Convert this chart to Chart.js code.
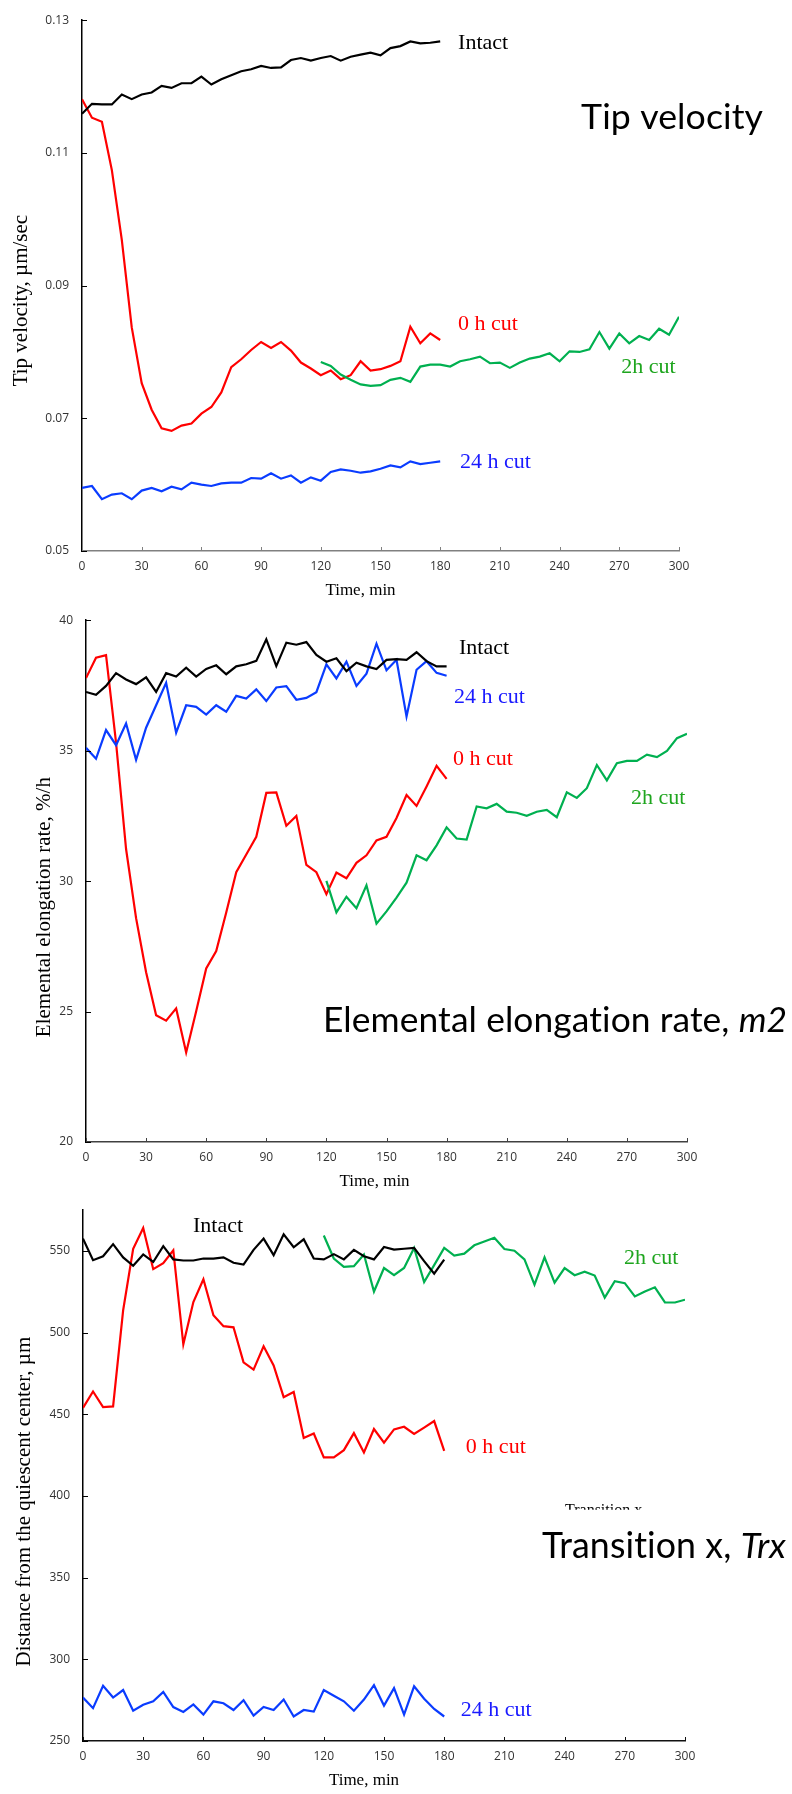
<!DOCTYPE html>
<html>
<head>
<meta charset="utf-8">
<title>Tip velocity, elongation rate and transition</title>
<script src="https://cdn.jsdelivr.net/npm/chart.js@4.4.1/dist/chart.umd.min.js"></script>
<style>
  html, body { margin: 0; padding: 0; background: #fff; }
  body { width: 792px; height: 1794px; position: relative; overflow: hidden; }
  .panel { position: absolute; left: 0; width: 792px; }
</style>
</head>
<body>
<div class="panel" style="top:0;height:600px"><canvas id="tipChart" width="792" height="600"></canvas></div>
<div class="panel" style="top:600px;height:590px"><canvas id="eerChart" width="792" height="590"></canvas></div>
<div class="panel" style="top:1190px;height:604px"><canvas id="trxChart" width="792" height="604"></canvas></div>

<script>
// time points (min)
const timesEarly = [0, 5, 10, 15, 20, 25, 30, 35, 40, 45, 50, 55, 60, 65, 70, 75, 80, 85, 90,
    95, 100, 105, 110, 115, 120, 125, 130, 135, 140, 145, 150, 155, 160, 165, 170, 175, 180];
const timesLate = [120, 125, 130, 135, 140, 145, 150, 155, 160, 165, 170, 175, 180, 185, 190,
    195, 200, 205, 210, 215, 220, 225, 230, 235, 240, 245, 250, 255, 260, 265, 270, 275, 280,
    285, 290, 295, 300];
const timeTicks = [0, 30, 60, 90, 120, 150, 180, 210, 240, 270, 300];

// Tip velocity, um/sec
const tipIntact = [0.1159, 0.1174, 0.1173, 0.1173, 0.1188, 0.1181, 0.1188, 0.1191, 0.1201, 0.1198,
    0.1205, 0.1205, 0.1215, 0.1203, 0.1211, 0.1217, 0.1223, 0.1226, 0.1231, 0.1228, 0.1229, 0.1240,
    0.1243, 0.1239, 0.1243, 0.1246, 0.1239, 0.1245, 0.1248, 0.1251, 0.1247, 0.1258, 0.1261, 0.1268,
    0.1265, 0.1266, 0.1268];
const tipCut0h = [0.1181, 0.1153, 0.1147, 0.1074, 0.0969, 0.0837, 0.0753, 0.0713, 0.0685, 0.0681,
    0.0689, 0.0692, 0.0707, 0.0717, 0.0739, 0.0777, 0.0789, 0.0803, 0.0815, 0.0806, 0.0815, 0.0802,
    0.0784, 0.0775, 0.0765, 0.0772, 0.0759, 0.0765, 0.0786, 0.0772, 0.0774, 0.0779, 0.0786, 0.0838,
    0.0813, 0.0828, 0.0818];
const tipCut2h = [0.0785, 0.0779, 0.0766, 0.0758, 0.0751, 0.0749, 0.0750, 0.0758, 0.0761, 0.0755,
    0.0778, 0.0781, 0.0781, 0.0778, 0.0786, 0.0789, 0.0793, 0.0783, 0.0784, 0.0776, 0.0784, 0.0790,
    0.0793, 0.0798, 0.0786, 0.0801, 0.0800, 0.0804, 0.0830, 0.0805, 0.0828, 0.0813, 0.0824, 0.0818,
    0.0835, 0.0826, 0.0853];
const tipCut24h = [0.0595, 0.0598, 0.0578, 0.0585, 0.0587, 0.0578, 0.0591, 0.0595, 0.0590, 0.0597,
    0.0593, 0.0603, 0.0600, 0.0598, 0.0602, 0.0603, 0.0603, 0.0610, 0.0609, 0.0617, 0.0609, 0.0614,
    0.0603, 0.0611, 0.0606, 0.0619, 0.0623, 0.0621, 0.0618, 0.0620, 0.0624, 0.0629, 0.0626, 0.0635,
    0.0631, 0.0633, 0.0635];

// Elemental elongation rate, %/h
const eerIntact = [37.25, 37.14, 37.48, 37.97, 37.73, 37.55, 37.81, 37.25, 37.97, 37.84, 38.18,
    37.84, 38.13, 38.27, 37.93, 38.23, 38.31, 38.44, 39.27, 38.24, 39.14, 39.06, 39.16, 38.67, 38.41,
    38.54, 38.05, 38.37, 38.23, 38.13, 38.48, 38.51, 38.48, 38.77, 38.43, 38.23, 38.23];
const eerCut0h = [37.78, 38.56, 38.66, 35.31, 31.23, 28.58, 26.51, 24.86, 24.65, 25.12, 23.43,
    25.01, 26.65, 27.32, 28.80, 30.34, 31.02, 31.70, 33.38, 33.40, 32.12, 32.50, 30.62, 30.34, 29.50,
    30.33, 30.11, 30.70, 30.99, 31.56, 31.70, 32.42, 33.30, 32.88, 33.63, 34.42, 33.92];
const eerCut2h = [30.01, 28.80, 29.40, 28.96, 29.84, 28.37, 28.84, 29.37, 29.94, 30.99, 30.80,
    31.37, 32.06, 31.63, 31.59, 32.86, 32.79, 32.96, 32.66, 32.62, 32.50, 32.66, 32.73, 32.45, 33.40,
    33.19, 33.56, 34.45, 33.86, 34.52, 34.61, 34.61, 34.85, 34.75, 34.99, 35.48, 35.65];
const eerCut24h = [35.11, 34.69, 35.79, 35.21, 36.04, 34.65, 35.88, 36.74, 37.60, 35.69, 36.74,
    36.68, 36.38, 36.74, 36.49, 37.10, 37.00, 37.35, 36.90, 37.42, 37.47, 36.95, 37.02, 37.24, 38.31,
    37.77, 38.41, 37.48, 37.95, 39.10, 38.08, 38.48, 36.31, 38.10, 38.43, 37.98, 37.87];

// Transition x, distance from the quiescent center, um
const trxIntact = [557.6, 544.4, 546.8, 554.2, 546.1, 541.0, 547.9, 543.3, 553.0, 544.9, 544.2,
    544.2, 545.4, 545.4, 546.1, 542.8, 541.7, 550.7, 557.6, 547.5, 560.2, 552.3, 557.2, 545.4, 544.9,
    548.1, 544.9, 550.7, 546.8, 544.9, 552.5, 550.9, 551.4, 551.9, 543.8, 536.1, 544.7];
const trxCut0h = [454.0, 464.0, 454.5, 454.9, 513.7, 551.4, 564.1, 538.9, 542.6, 550.5, 492.9,
    518.8, 532.7, 510.7, 504.0, 503.3, 481.8, 477.4, 491.7, 479.9, 460.5, 463.7, 435.5, 438.3, 423.7,
    423.7, 428.1, 438.5, 426.7, 441.0, 432.7, 440.8, 442.4, 438.0, 441.9, 445.9, 427.6];
const trxCut2h = [559.5, 545.4, 540.3, 540.7, 547.9, 525.2, 539.6, 535.2, 539.6, 551.9, 531.0,
    541.4, 551.9, 547.2, 548.4, 553.5, 555.8, 558.1, 551.2, 550.2, 544.9, 529.4, 546.1, 530.6, 539.6,
    535.2, 537.3, 535.0, 521.5, 531.5, 530.3, 522.2, 525.2, 527.8, 518.5, 518.5, 520.2];
const trxCut24h = [276.6, 270.1, 283.8, 276.6, 281.2, 268.5, 272.2, 274.3, 280.0, 270.8, 267.8,
    272.4, 266.2, 274.3, 273.1, 269.0, 275.0, 265.5, 270.8, 269.0, 275.4, 265.0, 269.0, 268.0, 281.2,
    277.7, 274.3, 268.5, 275.4, 284.2, 271.7, 282.4, 266.2, 283.5, 275.9, 269.6, 265.0];

const lineColors = { intact: '#000000', cut0h: '#ff0000', cut2h: '#00b050', cut24h: '#0a3cff' };
const labelColors = { intact: '#000000', cut0h: '#ff0000', cut2h: '#1ea51e', cut24h: '#1a1aff' };

function points(times, values) {
    return times.map((t, i) => ({ x: t, y: values[i] }));
}

function series(times, values, color) {
    return {
        data: points(times, values),
        borderColor: color,
        borderWidth: 2.2,
        pointRadius: 0,
        tension: 0,
        fill: false
    };
}

// Axis titles, inward tick marks, curve labels and the panel headings
const figureText = {
    id: 'figureText',
    afterDraw(chart, args, opts) {
        const ctx = chart.ctx;
        const xs = chart.scales.x;
        const ys = chart.scales.y;
        const area = chart.chartArea;
        ctx.save();

        ctx.strokeStyle = '#000';
        ctx.lineWidth = 1;
        ys.ticks.forEach(tk => {
            const y = Math.round(ys.getPixelForValue(tk.value)) + 0.5;
            ctx.beginPath();
            ctx.moveTo(area.left, y);
            ctx.lineTo(area.left + 5, y);
            ctx.stroke();
        });
        ctx.strokeStyle = opts.xAxisColor;
        xs.ticks.forEach(tk => {
            const x = Math.round(xs.getPixelForValue(tk.value)) + 0.5;
            ctx.beginPath();
            ctx.moveTo(x, area.bottom);
            ctx.lineTo(x, area.bottom - 4);
            ctx.stroke();
        });

        ctx.fillStyle = '#000';
        ctx.textAlign = 'center';
        ctx.textBaseline = 'middle';
        ctx.font = '17px "Liberation Serif"';
        ctx.fillText('Time, min', (area.left + area.right) / 2 + opts.xTitleShift, area.bottom + 40);

        ctx.save();
        ctx.translate(opts.yTitleX, (area.top + area.bottom) / 2 + opts.yTitleShift);
        ctx.rotate(-Math.PI / 2);
        ctx.font = '21px "Liberation Serif"';
        ctx.fillText(opts.yTitle, 0, 0);
        ctx.restore();

        ctx.textAlign = 'left';
        ctx.font = '22px "Liberation Serif"';
        opts.labels.forEach(lb => {
            ctx.fillStyle = lb.color;
            ctx.fillText(lb.text, xs.getPixelForValue(lb.t), ys.getPixelForValue(lb.v));
        });

        if (opts.ghost) {
            // only the top of this caption shows in the figure
            const g = opts.ghost;
            const gx = xs.getPixelForValue(g.t);
            const gy = ys.getPixelForValue(g.v);
            ctx.save();
            ctx.beginPath();
            ctx.rect(gx - 5, gy - 20, 200, 20 - g.cut);
            ctx.clip();
            ctx.fillStyle = '#000';
            ctx.textBaseline = 'alphabetic';
            ctx.font = '16px "Liberation Serif"';
            ctx.fillText(g.text, gx, gy);
            ctx.restore();
        }

        // heading, fitted to the width it has in the figure
        const h = opts.heading;
        ctx.textBaseline = 'alphabetic';
        ctx.fillStyle = '#000';
        ctx.letterSpacing = '0.1px';
        let total = 0;
        h.parts.forEach(p => {
            ctx.font = (p.italic ? 'italic ' : '') + '38px Lato';
            total += ctx.measureText(p.text).width;
        });
        const size = 38 * h.width / total;
        let hx = xs.getPixelForValue(h.t);
        const hy = ys.getPixelForValue(h.v);
        h.parts.forEach(p => {
            ctx.font = (p.italic ? 'italic ' : '') + size.toFixed(2) + 'px Lato';
            ctx.fillText(p.text, hx, hy);
            hx += ctx.measureText(p.text).width;
        });

        ctx.restore();
    }
};

function makeChart(id, datasets, yOpts, layoutPad, yWidth, xAxisColor, textOpts) {
    const ctx = document.getElementById(id).getContext('2d');
    return new Chart(ctx, {
        type: 'line',
        data: { datasets: datasets },
        options: {
            responsive: false,
            animation: false,
            events: [],
            layout: { padding: layoutPad },
            plugins: {
                legend: { display: false },
                tooltip: { enabled: false },
                figureText: Object.assign({ xAxisColor: xAxisColor }, textOpts)
            },
            scales: {
                x: {
                    type: 'linear',
                    min: 0,
                    max: 300,
                    afterBuildTicks: scale => { scale.ticks = timeTicks.map(v => ({ value: v })); },
                    afterFit: scale => { scale.height = 30; },
                    grid: { display: false, drawTicks: false },
                    border: { color: xAxisColor, width: 1.5 },
                    ticks: {
                        padding: 8,
                        maxRotation: 0,
                        autoSkip: false,
                        color: '#333',
                        font: { family: '"Open Sans"', size: 12 }
                    }
                },
                y: Object.assign({
                    afterFit: scale => { scale.width = yWidth; },
                    grid: { display: false, drawTicks: false },
                    border: { color: '#000', width: 1.5 },
                    ticks: Object.assign({
                        padding: 13,
                        color: '#333',
                        includeBounds: false,
                        font: { family: '"Open Sans"', size: 12 }
                    }, yOpts.ticks)
                }, { min: yOpts.min, max: yOpts.max })
            }
        },
        plugins: [figureText]
    });
}

makeChart('tipChart', [
    series(timesEarly, tipIntact, lineColors.intact),
    series(timesEarly, tipCut24h, lineColors.cut24h),
    series(timesLate, tipCut2h, lineColors.cut2h),
    series(timesEarly, tipCut0h, lineColors.cut0h)
], {
    min: 0.05, max: 0.13,
    ticks: { stepSize: 0.02, callback: v => v.toFixed(2) }
}, { left: 0, top: 15, right: 113, bottom: 19 }, 82, '#808080', {
    xTitleShift: -20,
    yTitleX: 21,
    yTitleShift: 15,
    yTitle: 'Tip velocity, µm/sec',
    labels: [
        { text: 'Intact', t: 189, v: 0.12657, color: labelColors.intact },
        { text: '0 h cut', t: 189, v: 0.08424, color: labelColors.cut0h },
        { text: '2h cut', t: 271, v: 0.07767, color: labelColors.cut2h },
        { text: '24 h cut', t: 190, v: 0.06343, color: labelColors.cut24h }
    ],
    heading: { t: 250.8, v: 0.11358, width: 182, parts: [{ text: 'Tip velocity', italic: false }] }
});

makeChart('eerChart', [
    series(timesEarly, eerIntact, lineColors.intact),
    series(timesEarly, eerCut24h, lineColors.cut24h),
    series(timesLate, eerCut2h, lineColors.cut2h),
    series(timesEarly, eerCut0h, lineColors.cut0h)
], {
    min: 20, max: 40,
    ticks: { stepSize: 5 }
}, { left: 0, top: 16, right: 105, bottom: 18 }, 86, '#404040', {
    xTitleShift: -12,
    yTitleX: 44,
    yTitleShift: 26,
    yTitle: 'Elemental elongation rate, %/h',
    labels: [
        { text: 'Intact', t: 186.2, v: 38.92, color: labelColors.intact },
        { text: '24 h cut', t: 183.7, v: 37.03, color: labelColors.cut24h },
        { text: '0 h cut', t: 183.2, v: 34.68, color: labelColors.cut0h },
        { text: '2h cut', t: 272.1, v: 33.19, color: labelColors.cut2h }
    ],
    heading: {
        t: 118.3, v: 24.22, width: 464,
        parts: [{ text: 'Elemental elongation rate, ', italic: false }, { text: 'm2', italic: true }]
    }
});

makeChart('trxChart', [
    series(timesEarly, trxIntact, lineColors.intact),
    series(timesEarly, trxCut24h, lineColors.cut24h),
    series(timesLate, trxCut2h, lineColors.cut2h),
    series(timesEarly, trxCut0h, lineColors.cut0h)
], {
    min: 250, max: 575,
    ticks: { stepSize: 50 }
}, { left: 0, top: 10, right: 107, bottom: 23 }, 83, '#111111', {
    xTitleShift: -20,
    yTitleX: 24,
    yTitleShift: 26,
    yTitle: 'Distance from the quiescent center, µm',
    labels: [
        { text: 'Intact', t: 54.8, v: 565, color: labelColors.intact },
        { text: '2h cut', t: 269.6, v: 545.8, color: labelColors.cut2h },
        { text: '0 h cut', t: 190.8, v: 430, color: labelColors.cut0h },
        { text: '24 h cut', t: 188.3, v: 268.6, color: labelColors.cut24h }
    ],
    ghost: { text: 'Transition x', t: 240.2, v: 388.6, cut: 5 },
    heading: {
        t: 228.7, v: 362.2, width: 244,
        parts: [{ text: 'Transition x, ', italic: false }, { text: 'Trx', italic: true }]
    }
});
</script>
</body>
</html>
